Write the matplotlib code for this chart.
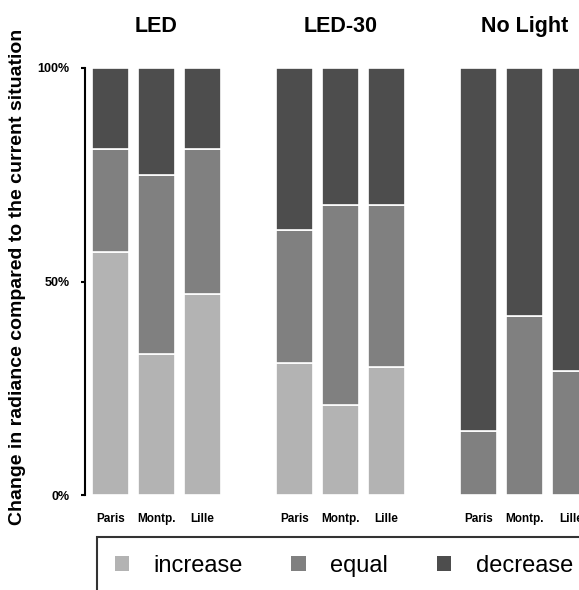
import numpy as np
import matplotlib
matplotlib.use("Agg")
import matplotlib.pyplot as plt

plt.rcParams['font.family'] = ['Liberation Sans', 'DejaVu Sans']

#---------- DATA ----------
groups = ["LED", "LED-30", "No Light"]
cities = ["Paris", "Montp.", "Lille"]
increase = [57, 33, 47, 31, 21, 30, 0, 0, 0]
equal = [24, 42, 34, 31, 47, 38, 15, 42, 29]
decrease = [19, 25, 19, 38, 32, 32, 85, 58, 71]
legend_labels = ["increase", "equal", "decrease"]
colors = ["#b3b3b3", "#808080", "#4d4d4d"]

#---------- POSITIONS ----------
x = []
for g in range(len(groups)):
    for c in range(len(cities)):
        x.append(g * 4 + c)
x = np.array(x)

inc = np.array(increase) / 100
eq = np.array(equal) / 100
dec = np.array(decrease) / 100

fig = plt.figure(figsize=(5.79, 5.90), dpi=100)
ax = fig.add_axes([85 / 579, 1 - 495 / 590, 1 - 85 / 579, (495 - 68) / 590])

series = [inc, eq, dec]
bottom = np.zeros(len(x))
for vals, col, lab in zip(series, colors, legend_labels):
    ax.bar(x, vals, bottom=bottom, width=0.8, color=col, edgecolor="white",
           linewidth=1.2, label=lab)
    bottom += vals

ax.set_xlim(-0.55, 10.18)
ax.set_ylim(0, 1)

#---- axes style ----
for s in ["top", "right", "bottom"]:
    ax.spines[s].set_visible(False)
ax.spines["left"].set_linewidth(1.5)
ax.set_yticks([0, 0.5, 1])
ax.set_yticklabels(["0%", "50%", "100%"], fontsize=9, fontweight="bold")
ax.tick_params(axis="y", direction="out", length=3, width=1.5, pad=8)
ax.set_xticks(x)
ax.set_xticklabels(cities * len(groups), fontsize=8.5, fontweight="bold")
ax.tick_params(axis="x", length=0, pad=13)

ax.set_ylabel("Change in radiance compared to the current situation",
              fontsize=14, fontweight="bold", labelpad=5)
ax.yaxis.set_label_coords(-0.12, 0.51)

#---- group titles ----
for g, name in enumerate(groups):
    ax.text(g * 4 + 1, 1.097, name, ha="center", va="center",
            fontsize=15.5, fontweight="bold", transform=ax.get_xaxis_transform())

#---- legend ----
leg = fig.legend(loc="upper left", bbox_to_anchor=(97 / 579, 1 - 537 / 590),
                 ncol=3, fontsize=17, frameon=True, fancybox=False,
                 handlelength=0.6, handleheight=0.6, handletextpad=1.05,
                 columnspacing=2.05, borderpad=0.75, borderaxespad=0)
leg.get_frame().set_edgecolor("black")
leg.get_frame().set_linewidth(1.5)
for h in leg.legend_handles:
    h.set_edgecolor("none")

fig.savefig("out.png", dpi=100)
